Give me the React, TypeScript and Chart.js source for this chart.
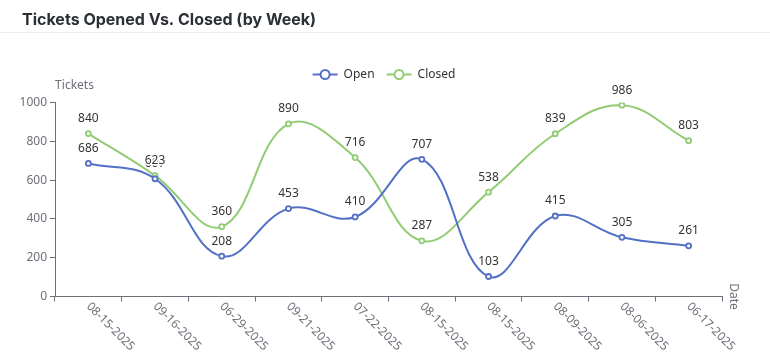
import React, { useEffect, useRef } from "react";
import { Chart, registerables } from "chart.js";

Chart.register(...registerables);

const categories = [
  "08-15-2025", "09-16-2025", "06-29-2025", "09-21-2025", "07-22-2025",
  "08-15-2025", "08-15-2025", "08-09-2025", "08-06-2025", "06-17-2025",
];
const openValues = [686, 607, 208, 453, 410, 707, 103, 415, 305, 261];
const closedValues = [840, 623, 360, 890, 716, 287, 538, 839, 986, 803];
const seriesNames = ["Open", "Closed"];
const seriesColors = ["#5470c6", "#91cc75"];
const yTicks = [0, 200, 400, 600, 800, 1000];
const titleText = "Tickets Opened Vs. Closed (by Week)";
const yAxisName = "Tickets";
const xAxisName = "Date";

const FONT = "'Noto Sans', sans-serif";
const AXIS_COLOR = "#6e7079";
const TEXT_COLOR = "#333333";

const decorPlugin = {
  id: "decor",
  afterDraw(chart: any) {
    const ctx = chart.ctx as CanvasRenderingContext2D;
    const area = chart.chartArea;
    const xScale = chart.scales.x;
    ctx.save();

    // Title and divider
    ctx.fillStyle = "#2b2f36";
    ctx.font = "700 16px Inter, 'Noto Sans', sans-serif";
    ctx.textAlign = "left";
    ctx.textBaseline = "alphabetic";
    ctx.fillText(titleText, 22, 25);
    ctx.strokeStyle = "#ececec";
    ctx.lineWidth = 1;
    ctx.beginPath();
    ctx.moveTo(0, 32.5);
    ctx.lineTo(chart.width, 32.5);
    ctx.stroke();

    // Legend
    ctx.font = `12px ${FONT}`;
    const widths = seriesNames.map((n) => ctx.measureText(n).width);
    const total = widths.reduce((a, b) => a + b, 0) + seriesNames.length * 30 + (seriesNames.length - 1) * 12;
    let lx = 383 - total / 2;
    const ly = 74.5;
    seriesNames.forEach((name, i) => {
      ctx.strokeStyle = seriesColors[i];
      ctx.lineWidth = 2;
      ctx.beginPath();
      ctx.moveTo(lx, ly);
      ctx.lineTo(lx + 25, ly);
      ctx.stroke();
      ctx.beginPath();
      ctx.arc(lx + 12.5, ly, 4.5, 0, Math.PI * 2);
      ctx.fillStyle = "#ffffff";
      ctx.fill();
      ctx.stroke();
      ctx.fillStyle = TEXT_COLOR;
      ctx.textAlign = "left";
      ctx.textBaseline = "middle";
      ctx.fillText(name, lx + 31, ly);
      lx += 31 + widths[i] + 12;
    });

    // Axis names
    ctx.fillStyle = AXIS_COLOR;
    ctx.font = `12px ${FONT}`;
    ctx.textAlign = "center";
    ctx.textBaseline = "middle";
    ctx.fillText(yAxisName, area.left + 19.5, 86);
    ctx.save();
    ctx.translate(area.right + 11, area.bottom);
    ctx.rotate(Math.PI / 2);
    ctx.fillText(xAxisName, 0, 0);
    ctx.restore();

    // X tick labels rotated
    categories.forEach((label, i) => {
      const x = xScale.getPixelForValue(i);
      ctx.save();
      ctx.translate(x, area.bottom + 8);
      ctx.rotate(Math.PI / 4);
      ctx.textAlign = "left";
      ctx.textBaseline = "middle";
      ctx.fillText(label, 0, 0);
      ctx.restore();
    });

    // Data labels (white halo, later series on top)
    ctx.textAlign = "center";
    ctx.textBaseline = "middle";
    ctx.lineJoin = "round";
    chart.data.datasets.forEach((ds: any, di: number) => {
      const meta = chart.getDatasetMeta(di);
      meta.data.forEach((pt: any, j: number) => {
        const t = String(ds.data[j]);
        ctx.strokeStyle = "#ffffff";
        ctx.lineWidth = 3;
        ctx.strokeText(t, pt.x, pt.y - 15);
        ctx.fillStyle = TEXT_COLOR;
        ctx.fillText(t, pt.x, pt.y - 15);
      });
    });

    ctx.restore();
  },
};

export default function App() {
  const ref = useRef<HTMLCanvasElement | null>(null);

  useEffect(() => {
    document.body.style.margin = "0";
    const canvas = ref.current;
    if (!canvas) return;
    Chart.defaults.font.family = FONT;
    const chart = new Chart(canvas, {
      type: "line",
      data: {
        labels: categories,
        datasets: [
          {
            label: seriesNames[0],
            data: openValues,
            borderColor: seriesColors[0],
            backgroundColor: seriesColors[0],
            pointBackgroundColor: "#ffffff",
            pointBorderColor: seriesColors[0],
            pointRadius: 2.5,
            pointBorderWidth: 1.8,
            borderWidth: 2,
            tension: 0.4,
            fill: false,
          },
          {
            label: seriesNames[1],
            data: closedValues,
            borderColor: seriesColors[1],
            backgroundColor: seriesColors[1],
            pointBackgroundColor: "#ffffff",
            pointBorderColor: seriesColors[1],
            pointRadius: 2.5,
            pointBorderWidth: 1.8,
            borderWidth: 2,
            tension: 0.4,
            fill: false,
          },
        ],
      },
      options: {
        responsive: false,
        animation: false,
        layout: { padding: { left: 0, right: 48, top: 102.5, bottom: 0 } },
        plugins: {
          legend: { display: false },
          title: { display: false },
          tooltip: { enabled: false },
        },
        scales: {
          x: {
            type: "category",
            offset: true,
            grid: {
              display: true,
              offset: true,
              drawOnChartArea: false,
              drawTicks: true,
              tickLength: 5,
              color: AXIS_COLOR,
            },
            border: { display: true, color: AXIS_COLOR, width: 1 },
            ticks: { display: false },
            afterFit: (scale: any) => {
              scale.height = 65.5;
            },
          },
          y: {
            min: 0,
            max: 1000,
            afterBuildTicks: (scale: any) => {
              scale.ticks = yTicks.map((v) => ({ value: v }));
            },
            grid: {
              display: true,
              drawOnChartArea: false,
              drawTicks: true,
              tickLength: 5,
              color: AXIS_COLOR,
            },
            border: { display: true, color: AXIS_COLOR, width: 1 },
            ticks: {
              color: AXIS_COLOR,
              font: { size: 12, family: FONT },
              padding: 3,
              callback: (v: any) => String(v),
            },
            afterFit: (scale: any) => {
              scale.width = 55;
            },
          },
        },
      },
      plugins: [decorPlugin],
    });
    return () => chart.destroy();
  }, []);

  return (
    <div style={{ width: 770, height: 362, background: "#ffffff" }}>
      <canvas ref={ref} width={770} height={362} style={{ display: "block" }} />
    </div>
  );
}
